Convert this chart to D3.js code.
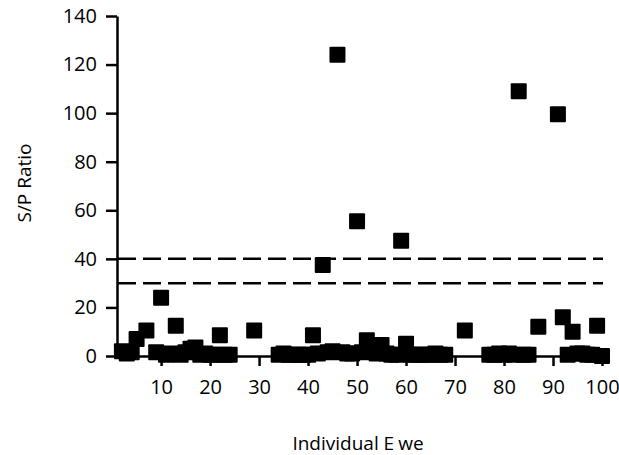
<!DOCTYPE html>
<html>
<head>
<meta charset="utf-8">
<script src="https://cdn.jsdelivr.net/npm/d3@7"></script>
<style>
  body { margin: 0; background: #fff; }
  text { font-family: "Open Sans", "Noto Sans", sans-serif; fill: #000; }
</style>
</head>
<body>
<svg width="619" height="455"></svg>
<script>
// Ewe number and S/P ratio
const eweIds = [2, 3, 4, 5, 7, 9, 10, 11, 12, 13, 14, 15, 16, 17, 18, 19, 20, 21, 22, 23, 24,
    29, 34, 35, 36, 37, 38, 39, 40, 41, 42, 43, 44, 45, 46, 47, 48, 49, 50, 51, 52, 53, 54, 55,
    56, 57, 58, 59, 60, 61, 62, 63, 64, 65, 66, 67, 68, 72, 77, 78, 79, 80, 81, 82, 83, 84, 85,
    87, 91, 92, 93, 94, 95, 96, 97, 98, 99, 100];
const spRatio = [2, 1, 1.5, 7, 10.5, 1.5, 24, 0.5, 1, 12.5, 0.5, 1.5, 3, 3.5, 0.5, 1, 0.5, 0.5, 8.5, 0.5, 0.5,
    10.5, 0.5, 1, 0.5, 0.5, 0.5, 0.5, 0.5, 8.5, 1, 37.5, 1.5, 2, 124, 1.5, 1, 1, 55.5, 1.5, 6.5, 2, 1, 4.5,
    1, 0.5, 0.5, 47.5, 5, 0.5, 0.5, 0.5, 0.5, 0.5, 1, 0.5, 0.5, 10.5, 0.5, 0.5, 1, 0.5, 1, 0.5, 109, 0.5, 0.5,
    12, 99.5, 16, 0.5, 10, 1, 1, 0.5, 0.5, 12.5, 0];
const cutoffs = [30, 40];
const xTicks = [10, 20, 30, 40, 50, 60, 70, 80, 90, 100];
const yTicks = [0, 20, 40, 60, 80, 100, 120, 140];

const svg = d3.select("svg"),
    margin = {top: 16, right: 17, bottom: 99, left: 117},
    width = +svg.attr("width") - margin.left - margin.right,
    height = +svg.attr("height") - margin.top - margin.bottom;

const x = d3.scaleLinear().domain([1, 100]).range([0, width]),
    y = d3.scaleLinear().domain([0, 140]).range([height, 0]);

const g = svg.append("g")
    .attr("transform", `translate(${margin.left},${margin.top})`);

const data = eweIds.map((id, i) => ({id: id, sp: spRatio[i]}));

// cut-off lines
g.selectAll(".cutoff")
    .data(cutoffs)
    .enter().append("line")
    .attr("class", "cutoff")
    .attr("x1", 1)
    .attr("x2", width + 1)
    .attr("y1", d => y(d))
    .attr("y2", d => y(d))
    .attr("stroke", "#000")
    .attr("stroke-width", 2.5)
    .attr("stroke-dasharray", "18,7");

// x axis
const xAxis = g.append("g")
    .attr("transform", `translate(0,${height})`)
    .call(d3.axisBottom(x).tickValues(xTicks).tickSize(10).tickSizeOuter(0).tickPadding(14));
xAxis.select(".domain").attr("stroke-width", 2.5);
xAxis.selectAll(".tick line").attr("stroke-width", 2.5);
xAxis.selectAll("text").style("font-size", "20px").attr("font-family", null);

// y axis
const yAxis = g.append("g")
    .call(d3.axisLeft(y).tickValues(yTicks).tickSize(11).tickSizeOuter(0).tickPadding(9));
yAxis.select(".domain").attr("stroke-width", 2.5);
yAxis.selectAll(".tick line").attr("stroke-width", 2.5);
yAxis.selectAll("text").style("font-size", "20px").attr("font-family", null);

// points
const sq = 16;
g.selectAll(".pt")
    .data(data)
    .enter().append("rect")
    .attr("class", "pt")
    .attr("x", d => x(d.id) - sq / 2)
    .attr("y", d => y(d.sp) - sq / 2)
    .attr("width", sq)
    .attr("height", sq)
    .attr("rx", 1)
    .attr("fill", "#000");

// axis titles
const xTitle = svg.append("text")
    .attr("x", 358)
    .attr("y", 450)
    .attr("text-anchor", "middle")
    .style("font-size", "19px");
xTitle.append("tspan").text("Individual E");
xTitle.append("tspan").attr("dx", 4).text("we");

svg.append("text")
    .attr("transform", "translate(31,183) rotate(-90)")
    .attr("text-anchor", "middle")
    .style("font-size", "19px")
    .text("S/P Ratio");
</script>
</body>
</html>
